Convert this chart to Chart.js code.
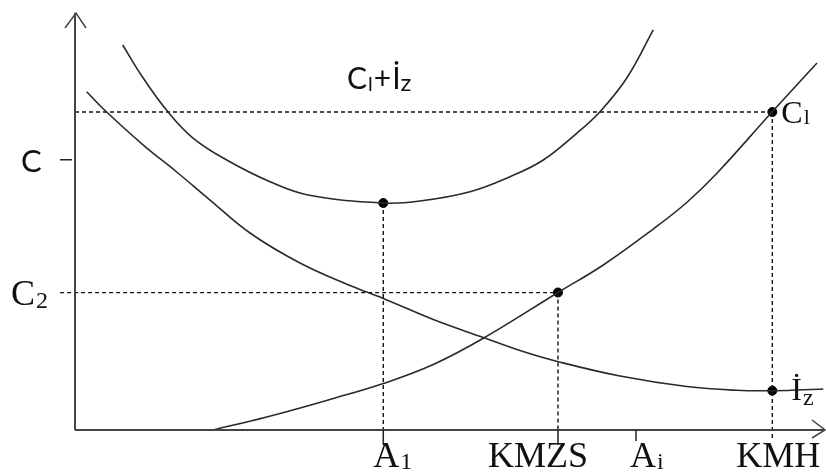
<!DOCTYPE html>
<html>
<head>
<meta charset="utf-8">
<script src="https://cdn.jsdelivr.net/npm/chart.js@4.4.0/dist/chart.umd.min.js"></script>
<style>
html, body { margin: 0; padding: 0; background: #fff; }
#wrap { width: 826px; height: 473px; }
</style>
</head>
<body>
<div id="wrap"><canvas id="myChart"></canvas></div>
<script>
// curves, both axes in 0..100 units
var sumCurve = [
    {x: 6.40, y: 92.77}, {x: 9.17, y: 84.75}, {x: 12.52, y: 76.55}, {x: 15.88, y: 70.29},
    {x: 20.36, y: 65.06}, {x: 26.17, y: 59.83}, {x: 31.28, y: 56.63}, {x: 41.38, y: 54.70},
    {x: 46.31, y: 55.18}, {x: 53.02, y: 57.42}, {x: 58.39, y: 61.04}, {x: 62.86, y: 65.06},
    {x: 67.34, y: 71.49}, {x: 70.47, y: 76.70}, {x: 74.05, y: 84.75}, {x: 77.62, y: 96.39}
];
var storageCurve = [
    {x: 1.57, y: 81.52}, {x: 4.03, y: 76.99}, {x: 9.17, y: 68.67}, {x: 13.65, y: 62.17},
    {x: 17.89, y: 55.78}, {x: 23.49, y: 47.47}, {x: 30.20, y: 40.24}, {x: 36.91, y: 34.82},
    {x: 41.38, y: 31.69}, {x: 48.09, y: 26.63}, {x: 54.81, y: 22.29}, {x: 59.73, y: 19.16},
    {x: 64.87, y: 16.46}, {x: 73.15, y: 13.01}, {x: 82.11, y: 10.48}, {x: 88.82, y: 9.57},
    {x: 93.73, y: 9.47}, {x: 100.44, y: 9.88}
];
var orderCurve = [
    {x: 18.52, y: 0}, {x: 25.73, y: 3.13}, {x: 34.67, y: 7.59}, {x: 41.38, y: 11.20},
    {x: 48.09, y: 15.78}, {x: 54.81, y: 22.10}, {x: 64.83, y: 33.13}, {x: 70.91, y: 39.76},
    {x: 77.62, y: 48.43}, {x: 82.11, y: 54.82}, {x: 86.13, y: 61.81}, {x: 93.56, y: 76.63},
    {x: 99.60, y: 88.43}
];
var markerPoints = [{x: 41.38, y: 54.70}, {x: 64.83, y: 33.13}, {x: 93.6, y: 76.63}, {x: 93.6, y: 9.47}];

// tick labels
var xTickValues = [41.38, 64.83, 75.3, 93.6];
var xTickLabels = [['A', '1'], ['KMZS', ''], ['A', 'i'], ['KMH', '']];
var yTickValues = [65.1, 33.1];
var yTickLabels = [['C', ''], ['C', '2']];

// dashed guides
var guideH = [
    [{x: 0, y: 76.63}, {x: 93.6, y: 76.63}],
    [{x: -2.0, y: 33.1}, {x: 64.83, y: 33.1}]
];
var guideV = [
    [{x: 41.38, y: 54.70}, {x: 41.38, y: 0}],
    [{x: 64.83, y: 33.13}, {x: 64.83, y: 0}],
    [{x: 93.6, y: 76.63}, {x: 93.6, y: -2.4}]
];

function drawSub(ctx, main, sub, x, y, font, subFont, subDrop) {
    ctx.font = font;
    ctx.fillText(main, x, y);
    var w = ctx.measureText(main).width;
    if (sub) {
        ctx.font = subFont;
        ctx.fillText(sub, x + w + 1, y + subDrop);
    }
}

var diagram = {
    id: 'diagram',
    afterDatasetsDraw: function(chart) {
        var ctx = chart.ctx;
        var xs = chart.scales.x, ys = chart.scales.y;
        var x0 = xs.getPixelForValue(0), y0 = ys.getPixelForValue(0);
        ctx.save();
        ctx.strokeStyle = '#444';
        ctx.lineWidth = 2;
        ctx.beginPath();
        ctx.moveTo(x0, y0); ctx.lineTo(x0, 13);
        ctx.moveTo(x0, y0); ctx.lineTo(825, y0);
        ctx.stroke();
        ctx.lineWidth = 1.5;
        ctx.beginPath();
        ctx.moveTo(x0 - 10, 28); ctx.lineTo(x0 + 1, 13); ctx.lineTo(x0 + 11, 28);
        ctx.moveTo(812, y0 - 10); ctx.lineTo(825, y0); ctx.lineTo(812, y0 + 8);
        ctx.stroke();

        // small ticks
        ctx.strokeStyle = '#222';
        ctx.lineWidth = 1.5;
        ctx.beginPath();
        ctx.moveTo(60, ys.getPixelForValue(yTickValues[0]));
        ctx.lineTo(72, ys.getPixelForValue(yTickValues[0]));
        for (var i = 0; i < 3; i++) {
            var tx = xs.getPixelForValue(xTickValues[i]);
            ctx.moveTo(tx, y0);
            ctx.lineTo(tx, y0 + (i == 2 ? 11 : 15));
        }
        ctx.stroke();

        ctx.fillStyle = '#111';
        ctx.textBaseline = 'alphabetic';
        var serif = '36px "Liberation Serif", serif';
        var serifSub = '24px "Liberation Serif", serif';
        var dx = [-10, -70, -6, -36];
        for (var j = 0; j < xTickValues.length; j++) {
            var px = xs.getPixelForValue(xTickValues[j]) + dx[j];
            drawSub(ctx, xTickLabels[j][0], xTickLabels[j][1], px, 467, serif, serifSub, 2);
        }
        ctx.font = '31px Lato, sans-serif';
        ctx.fillText(yTickLabels[0][0], 21, ys.getPixelForValue(yTickValues[0]) + 12);
        drawSub(ctx, yTickLabels[1][0], yTickLabels[1][1], 11, ys.getPixelForValue(yTickValues[1]) + 12, serif, serifSub, 3);

        // curve labels
        var sans = '30px Lato, sans-serif';
        var sansSub = '20px Lato, sans-serif';
        ctx.font = sans;
        var lx = 347;
        ctx.fillText('C', lx, 89); lx += ctx.measureText('C').width;
        ctx.font = sansSub; ctx.fillText('l', lx + 1, 91); lx += ctx.measureText('l').width + 2;
        ctx.font = sans; ctx.fillText('+', lx, 89); lx += ctx.measureText('+').width + 1;
        ctx.fillText('\u0130', lx, 89); lx += ctx.measureText('\u0130').width;
        ctx.font = '24px Lato, sans-serif'; ctx.fillText('z', lx, 91);

        var m = markerPoints[2], n = markerPoints[3];
        drawSub(ctx, 'C', 'l', xs.getPixelForValue(m.x) + 9, ys.getPixelForValue(m.y) + 11, '32px "Liberation Serif", serif', '22px "Liberation Serif", serif', 1);
        drawSub(ctx, '\u0130', 'z', xs.getPixelForValue(n.x) + 19, ys.getPixelForValue(n.y) + 9, '32px "Liberation Serif", serif', '24px "Liberation Serif", serif', 5);
        ctx.restore();
    }
};

window.onload = function() {
    var ctx = document.getElementById('myChart').getContext('2d');
    var datasets = [];
    var curves = [sumCurve, storageCurve, orderCurve];
    for (var i = 0; i < curves.length; i++) {
        datasets.push({
            data: curves[i], showLine: true, borderColor: '#2a2a2a', borderWidth: 1.6,
            pointRadius: 0, tension: 0.4, clip: false
        });
    }
    guideH.concat(guideV).forEach(function(g) {
        datasets.push({
            data: g, showLine: true, borderColor: '#111', borderWidth: 1.4,
            borderDash: [4, 3], pointRadius: 0, clip: false
        });
    });
    datasets.push({
        data: markerPoints, showLine: false, pointRadius: 4.5,
        pointBackgroundColor: '#000', pointBorderColor: '#000', clip: false
    });

    new Chart(ctx, {
        type: 'scatter',
        data: { datasets: datasets },
        options: {
            responsive: true,
            maintainAspectRatio: false,
            animation: false,
            layout: { padding: { left: 75, right: 6, top: 15, bottom: 43 } },
            plugins: { legend: { display: false }, tooltip: { enabled: false } },
            scales: {
                x: { type: 'linear', min: 0, max: 100, display: false },
                y: { type: 'linear', min: 0, max: 100, display: false }
            }
        },
        plugins: [diagram]
    });
};
</script>
</body>
</html>
